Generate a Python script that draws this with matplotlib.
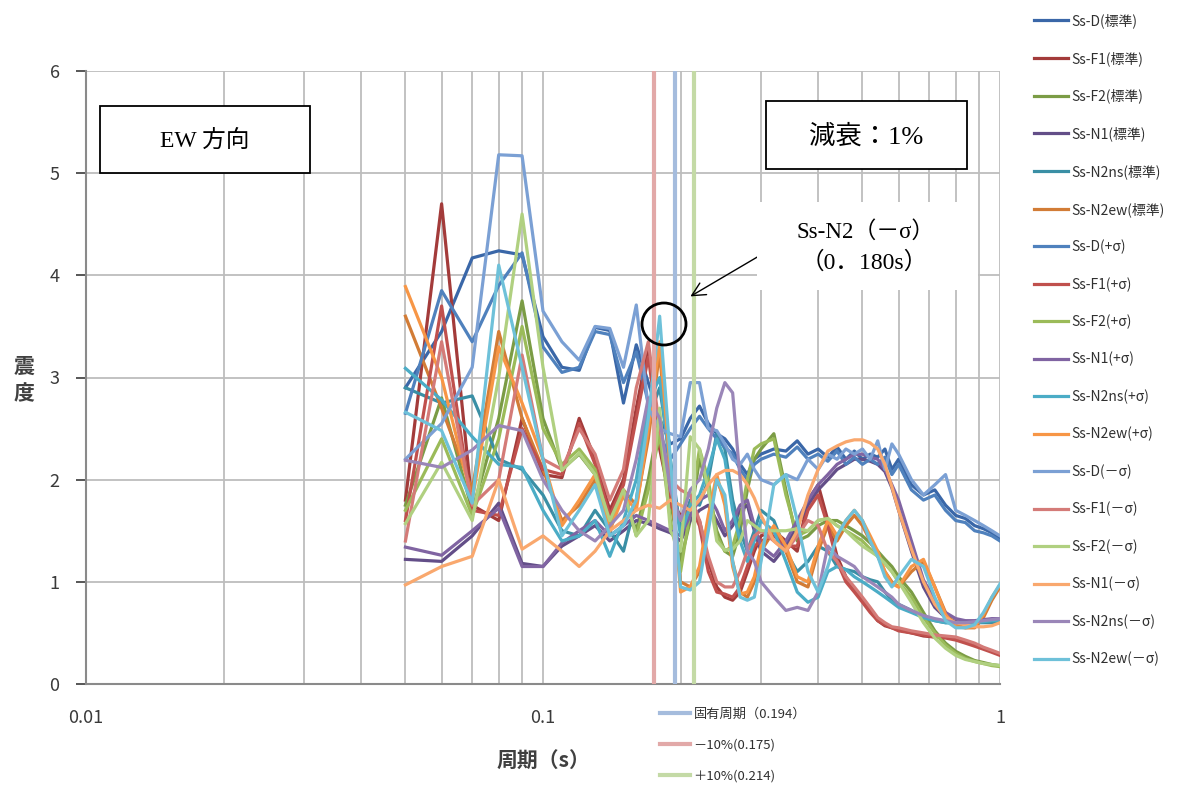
import numpy as np
import matplotlib
matplotlib.use("Agg")
import matplotlib.pyplot as plt
from matplotlib.patches import Ellipse, Rectangle

plt.rcParams['font.family'] = ['Noto Sans CJK JP', 'DejaVu Sans']

# periods (s)
periods = [0.05, 0.06, 0.07, 0.08, 0.09, 0.10,
           0.11, 0.12, 0.13, 0.14, 0.15, 0.16, 0.17, 0.18, 0.19, 0.20,
           0.21, 0.22, 0.23, 0.24, 0.25, 0.26, 0.27, 0.28, 0.29, 0.30,
           0.32, 0.34, 0.36, 0.38, 0.40, 0.42, 0.44, 0.46, 0.48, 0.50,
           0.52, 0.54, 0.56, 0.58, 0.60,
           0.64, 0.68, 0.72, 0.76, 0.80, 0.84, 0.88, 0.92, 0.96, 1.00]

labels = ['Ss-D(標準)', 'Ss-F1(標準)', 'Ss-F2(標準)', 'Ss-N1(標準)', 'Ss-N2ns(標準)', 'Ss-N2ew(標準)',
          'Ss-D(+σ)', 'Ss-F1(+σ)', 'Ss-F2(+σ)', 'Ss-N1(+σ)', 'Ss-N2ns(+σ)', 'Ss-N2ew(+σ)',
          'Ss-D(－σ)', 'Ss-F1(－σ)', 'Ss-F2(－σ)', 'Ss-N1(－σ)', 'Ss-N2ns(－σ)', 'Ss-N2ew(－σ)']

colors = ['#3A67A8', '#A33B3A', '#7B9C45', '#634E88', '#3A8FA5', '#D27C36',
          '#4F81BD', '#C0504D', '#9BBB59', '#8064A2', '#4BACC6', '#F79646',
          '#7BA0D4', '#D47B78', '#B0D080', '#F9A86E', '#9A86B8', '#6EC1D9']

d_std = [2.9, 3.45, 4.17, 4.24, 4.2, 3.4,
         3.1, 3.07, 3.49, 3.46, 2.75, 3.32, 2.95, 2.6, 2.35, 2.4,
         2.6, 2.72, 2.55, 2.45, 2.4, 2.3, 2.15, 2.05, 2.2, 2.25,
         2.3, 2.28, 2.38, 2.25, 2.3, 2.22, 2.32, 2.2, 2.28, 2.2,
         2.25, 2.22, 2.3, 2.1, 2.2,
         1.95, 1.85, 1.9, 1.75, 1.65, 1.62, 1.55, 1.52, 1.48, 1.42]
f1_std = [1.8, 4.7, 1.75, 1.6, 2.6, 2.05,
          2.02, 2.6, 2.2, 1.7, 2.0, 2.7, 3.3, 2.3, 1.8, 1.65,
          1.7, 1.6, 1.2, 0.95, 0.85, 0.82, 0.9, 1.1, 1.3, 1.45,
          1.5, 1.4, 1.3, 1.8, 1.95, 1.6, 1.25, 1.05, 0.92, 0.82,
          0.72, 0.62, 0.57, 0.55, 0.53,
          0.5, 0.47, 0.46, 0.46, 0.45, 0.42, 0.38, 0.35, 0.32, 0.29]
f2_std = [1.75, 2.8, 1.7, 2.6, 3.75, 2.6,
          2.1, 2.25, 2.05, 1.6, 1.85, 1.5, 2.0, 2.6, 1.8, 1.2,
          1.6, 2.2, 1.9, 1.5, 1.3, 1.25, 1.5, 1.9, 2.2, 2.3,
          2.45, 1.9, 1.4, 1.45, 1.55, 1.6, 1.6, 1.55, 1.5, 1.45,
          1.38, 1.3, 1.22, 1.15, 1.05,
          0.9, 0.7, 0.52, 0.4, 0.32, 0.27, 0.23, 0.21, 0.19, 0.18]
n1_std = [1.22, 1.2, 1.45, 1.77, 1.18, 1.15,
          1.35, 1.45, 1.55, 1.4, 1.5, 1.6, 1.57, 1.52, 1.48, 1.4,
          1.6, 1.7, 1.75, 1.6, 1.45, 1.55, 1.7, 1.75, 1.5, 1.3,
          1.2, 1.35, 1.55, 1.75, 1.9, 2.0, 2.1, 2.15, 2.2, 2.2,
          2.18, 2.15, 2.08, 1.92, 1.7,
          1.3, 0.95, 0.75, 0.65, 0.61, 0.6, 0.6, 0.61, 0.62, 0.62]
n2ns_std = [2.9, 2.75, 2.82, 2.2, 2.1, 1.85,
            1.5, 1.45, 1.7, 1.5, 1.3, 1.8, 2.6, 2.9, 2.2, 1.5,
            1.8, 1.75, 2.0, 2.45, 2.3, 1.8, 1.5, 1.3, 1.5, 1.7,
            1.6, 1.3, 1.1, 1.2, 1.35, 1.3, 1.15, 1.12, 1.1, 1.05,
            1.02, 1.0, 0.9, 0.82, 0.78,
            0.72, 0.65, 0.62, 0.6, 0.6, 0.6, 0.6, 0.6, 0.6, 0.6]
n2ew_std = [3.6, 2.7, 1.9, 3.45, 2.6, 2.1,
            1.6, 1.75, 2.0, 1.5, 1.9, 1.75, 2.4, 3.25, 2.0, 1.0,
            0.95, 1.1, 1.6, 2.0, 1.8, 1.2, 0.9, 0.85, 1.0, 1.3,
            1.5, 1.3, 1.0, 0.95, 1.3, 1.55, 1.4, 1.55, 1.65, 1.55,
            1.4, 1.25, 1.1, 1.0, 0.95,
            1.1, 1.2, 0.95, 0.7, 0.58, 0.55, 0.55, 0.65, 0.82, 0.95]

d_plus = [2.65, 3.85, 3.35, 3.9, 4.22, 3.3,
          3.05, 3.1, 3.45, 3.42, 2.95, 3.25, 2.75, 2.45, 2.2, 2.35,
          2.5, 2.62, 2.5, 2.4, 2.32, 2.25, 2.1, 2.0, 2.15, 2.2,
          2.25, 2.22, 2.32, 2.2, 2.25, 2.18, 2.28, 2.15, 2.22, 2.15,
          2.2, 2.15, 2.22, 2.05, 2.15,
          1.9, 1.8, 1.85, 1.7, 1.6, 1.58, 1.5, 1.48, 1.45, 1.4]
f1_plus = [1.6, 3.7, 1.7, 1.65, 2.5, 2.1,
           2.05, 2.55, 2.15, 1.65, 1.95, 2.6, 3.2, 2.4, 1.75, 1.6,
           1.75, 1.55, 1.1, 0.9, 0.88, 0.85, 0.95, 1.15, 1.35, 1.4,
           1.45, 1.35, 1.35, 1.7, 1.85, 1.55, 1.2, 1.0, 0.9, 0.8,
           0.7, 0.62, 0.58, 0.55, 0.52,
           0.5, 0.48, 0.46, 0.45, 0.43, 0.4, 0.37, 0.34, 0.31, 0.28]
f2_plus = [1.7, 2.4, 1.65, 2.4, 3.5, 2.5,
           2.15, 2.3, 2.1, 1.55, 1.9, 1.45, 1.9, 2.45, 1.6, 1.1,
           1.7, 2.3, 2.0, 1.45, 1.3, 1.35, 1.6, 2.0, 2.3, 2.35,
           2.4, 1.85, 1.45, 1.5, 1.6, 1.62, 1.55, 1.5, 1.45, 1.4,
           1.32, 1.25, 1.18, 1.1, 1.0,
           0.85, 0.65, 0.5, 0.38, 0.3, 0.25, 0.22, 0.2, 0.18, 0.17]
n1_plus = [1.34, 1.26, 1.5, 1.72, 1.15, 1.15,
           1.38, 1.5, 1.6, 1.45, 1.55, 1.65, 1.6, 1.55, 1.5, 1.45,
           1.65, 1.8, 1.85, 1.7, 1.5, 1.6, 1.75, 1.8, 1.55, 1.35,
           1.25, 1.4, 1.6, 1.8, 1.95, 2.05, 2.15, 2.2, 2.25, 2.25,
           2.22, 2.2, 2.1, 1.95, 1.8,
           1.4, 1.02, 0.82, 0.7, 0.64, 0.62, 0.62, 0.63, 0.64, 0.64]
n2ns_plus = [3.09, 2.78, 2.42, 2.15, 2.12, 1.7,
             1.4, 1.45, 1.6, 1.25, 1.6, 2.0, 2.75, 3.0, 2.1, 1.45,
             1.75, 1.85, 2.1, 2.4, 2.2, 1.7, 1.4, 1.2, 1.4, 1.6,
             1.5, 1.2, 0.9, 0.8, 0.85, 1.1, 1.15, 1.12, 1.05, 1.0,
             0.95, 0.9, 0.85, 0.8, 0.75,
             0.7, 0.65, 0.62, 0.6, 0.6, 0.6, 0.6, 0.61, 0.62, 0.62]
n2ew_plus = [3.89, 3.0, 1.8, 3.3, 2.75, 2.2,
             1.55, 1.8, 2.05, 1.5, 1.85, 1.7, 2.5, 3.35, 2.1, 0.9,
             0.95, 1.15, 1.65, 2.05, 1.75, 1.15, 0.88, 0.9, 1.05, 1.35,
             1.55, 1.35, 1.05, 1.0, 1.35, 1.6, 1.45, 1.6, 1.7, 1.6,
             1.45, 1.3, 1.1, 0.98, 0.95,
             1.15, 1.22, 0.95, 0.68, 0.56, 0.55, 0.56, 0.68, 0.85, 0.97]

d_minus = [2.2, 2.55, 3.1, 5.18, 5.17, 3.65,
           3.35, 3.17, 3.5, 3.48, 3.1, 3.71, 2.7, 2.5, 2.45, 2.42,
           2.95, 2.95, 2.5, 2.48, 2.35, 2.2, 2.15, 2.25, 2.1, 2.0,
           1.95, 2.05, 2.0, 2.2, 2.1, 2.25, 2.2, 2.3, 2.25, 2.3,
           2.2, 2.38, 2.1, 2.35, 2.25,
           2.0, 1.85, 1.95, 2.05, 1.7, 1.65, 1.6, 1.55, 1.5, 1.45]
f1_minus = [1.4, 3.35, 1.75, 2.0, 3.22, 2.2,
            2.1, 2.5, 2.25, 1.8, 2.1, 2.9, 3.35, 2.5, 2.0, 1.9,
            1.85, 1.6, 1.25, 1.0, 0.95, 0.95, 1.1, 1.3, 1.45, 1.5,
            1.4, 1.3, 1.45, 1.6, 1.55, 1.3, 1.2, 1.05, 0.95, 0.85,
            0.75, 0.65, 0.6, 0.56, 0.55,
            0.52, 0.5, 0.48, 0.47, 0.46, 0.43, 0.4, 0.36, 0.33, 0.3]
f2_minus = [1.57, 2.17, 1.6, 3.0, 4.6, 3.1,
            2.09, 2.26, 2.05, 1.6, 1.9, 1.45, 1.6, 2.7, 1.5, 1.3,
            2.42, 2.3, 1.9, 1.4, 1.31, 1.32, 1.4, 1.6, 1.55, 1.5,
            1.5, 1.5, 1.52, 1.5, 1.6, 1.62, 1.55, 1.5, 1.42, 1.35,
            1.3, 1.25, 1.18, 1.1, 1.0,
            0.8, 0.6, 0.45, 0.35, 0.28, 0.24, 0.22, 0.2, 0.19, 0.18]
n1_minus = [0.97, 1.15, 1.25, 2.0, 1.32, 1.45,
            1.3, 1.15, 1.3, 1.5, 1.6, 1.7, 1.75, 1.72, 1.8, 1.75,
            1.7, 1.8, 1.95, 2.05, 2.09, 2.09, 2.05, 1.95, 1.82, 1.65,
            1.4, 1.3, 1.5, 1.85, 2.1, 2.28, 2.33, 2.37, 2.39, 2.39,
            2.36, 2.3, 2.15, 1.93, 1.7,
            1.32, 1.0, 0.78, 0.65, 0.6, 0.58, 0.56, 0.56, 0.57, 0.6]
n2ns_minus = [2.19, 2.12, 2.29, 2.53, 2.48, 2.0,
              1.7, 1.5, 1.4, 1.55, 1.7, 2.2, 2.8, 2.6, 1.9, 1.6,
              1.9, 2.0, 2.3, 2.7, 2.95, 2.85, 2.0, 1.3, 1.2, 1.0,
              0.85, 0.72, 0.75, 0.72, 0.9, 1.35, 1.25, 1.2, 1.15, 1.05,
              1.0, 0.95, 0.9, 0.85, 0.78,
              0.72, 0.67, 0.64, 0.62, 0.6, 0.6, 0.61, 0.62, 0.63, 0.64]
n2ew_minus = [2.66, 2.48, 1.77, 4.1, 3.1, 2.2,
              1.45, 1.7, 1.95, 1.45, 1.55, 1.8, 2.6, 3.6, 2.2, 0.95,
              0.92, 1.0, 1.5, 2.0, 1.85, 1.2, 0.85, 0.82, 0.85, 1.2,
              1.95, 2.05, 1.6, 1.1, 0.9, 1.15, 1.45, 1.6, 1.7, 1.6,
              1.4, 1.25, 1.05, 0.95, 1.05,
              1.22, 1.15, 0.85, 0.62, 0.55, 0.55, 0.58, 0.7, 0.85, 0.98]

series = [d_std, f1_std, f2_std, n1_std, n2ns_std, n2ew_std,
          d_plus, f1_plus, f2_plus, n1_plus, n2ns_plus, n2ew_plus,
          d_minus, f1_minus, f2_minus, n1_minus, n2ns_minus, n2ew_minus]

# natural period and +-10%
vline_periods = [0.194, 0.175, 0.214]
vline_labels = ['固有周期（0.194）', '－10%(0.175)', '＋10%(0.214)']
vline_colors = ['#A5BCDD', '#E2A9A8', '#C4DAA6']

W, H = 1182, 785
fig = plt.figure(figsize=(W / 100, H / 100), dpi=100)
ax = fig.add_axes([86 / W, 1 - 684 / H, 914 / W, 613 / H])

lines = []
for vals, lab, col in zip(series, labels, colors):
    ln, = ax.plot(periods, vals, color=col, lw=2.3, label=lab, solid_joinstyle='round')
    lines.append(ln)

vlines = []
for p, lab, col in zip(vline_periods, vline_labels, vline_colors):
    ln = ax.axvline(p, color=col, lw=3, label=lab, zorder=5)
    vlines.append(ln)

ax.set_xscale('log')
ax.set_xlim(0.01, 1)
ax.set_ylim(0, 6)
ax.set_yticks(range(7))
ax.set_xticks([0.01, 0.1, 1])
ax.set_xticklabels(['0.01', '0.1', '1'])
ax.grid(True, which='major', color='#BDBDBD', lw=1.3)
ax.grid(True, which='minor', axis='x', color='#BDBDBD', lw=1.3)
ax.tick_params(axis='x', which='minor', length=0)
ax.tick_params(axis='both', labelsize=13, colors='#3A3A3A', length=7, width=1.2)
ax.tick_params(axis='y', pad=12)
ax.tick_params(axis='x', which='major', length=0, pad=18)
for s in ['top', 'right']:
    ax.spines[s].set_visible(False)
for s in ['left', 'bottom']:
    ax.spines[s].set_color('#8A8A8A')
    ax.spines[s].set_linewidth(1.5)
ax.set_axisbelow(True)

ax.set_xlabel('周期（s）', fontsize=15, color='#404040', fontweight='bold', labelpad=17)
fig.text(24 / W, 1 - 380 / H, '震\n度', fontsize=15, color='#404040', fontweight='bold',
         ha='center', va='center', linespacing=1.35)

serif = ['Liberation Serif', 'Noto Sans CJK JP']


def fig_box(x0, y0, x1, y1, ec):
    fig.add_artist(Rectangle((x0 / W, 1 - y1 / H), (x1 - x0) / W, (y1 - y0) / H,
                             transform=fig.transFigure, fc='white', ec=ec, lw=1.3, zorder=6))


fig_box(100, 106, 310, 173, 'black')
fig.text(205 / W, 1 - 141 / H, 'EW 方向', fontsize=17, family=serif, ha='center', va='center', zorder=7)
fig_box(766, 101, 967, 169, 'black')
fig.text(866 / W, 1 - 136 / H, '減衰：1%', fontsize=19, family=serif, ha='center', va='center', zorder=7)

# annotation for the peak of Ss-N2(-sigma)
fig_box(757, 202, 978, 290, 'none')
fig.text(866 / W, 1 - 232 / H, 'Ss-N2（－σ）', fontsize=16.5, family=serif, ha='center', va='center', zorder=7)
fig.text(864 / W, 1 - 263 / H, '（0．180s）', fontsize=17, family=serif, ha='center', va='center', zorder=7)
ax.annotate('', xy=(0.2076, 3.78), xytext=(0.3215, 4.28),
            arrowprops=dict(arrowstyle='->', color='black', lw=1, mutation_scale=24), zorder=8)
fig.add_artist(Ellipse((664 / W, 1 - 324 / H), 44 / W, 42 / H, transform=fig.transFigure,
                       fill=False, ec='black', lw=2, zorder=8))

fig.legend(handles=lines, loc='upper left', bbox_to_anchor=(0.864, 0.999), frameon=False,
           fontsize=10, labelspacing=1.65, handlelength=2.45, handletextpad=0.25,
           labelcolor='#303030')
fig.legend(handles=vlines, loc='upper left', bbox_to_anchor=(0.548, 0.114), frameon=False,
           fontsize=9.5, labelspacing=1.36, handlelength=2.33, handletextpad=0.25,
           labelcolor='#303030')

fig.savefig('out.png', dpi=100)
